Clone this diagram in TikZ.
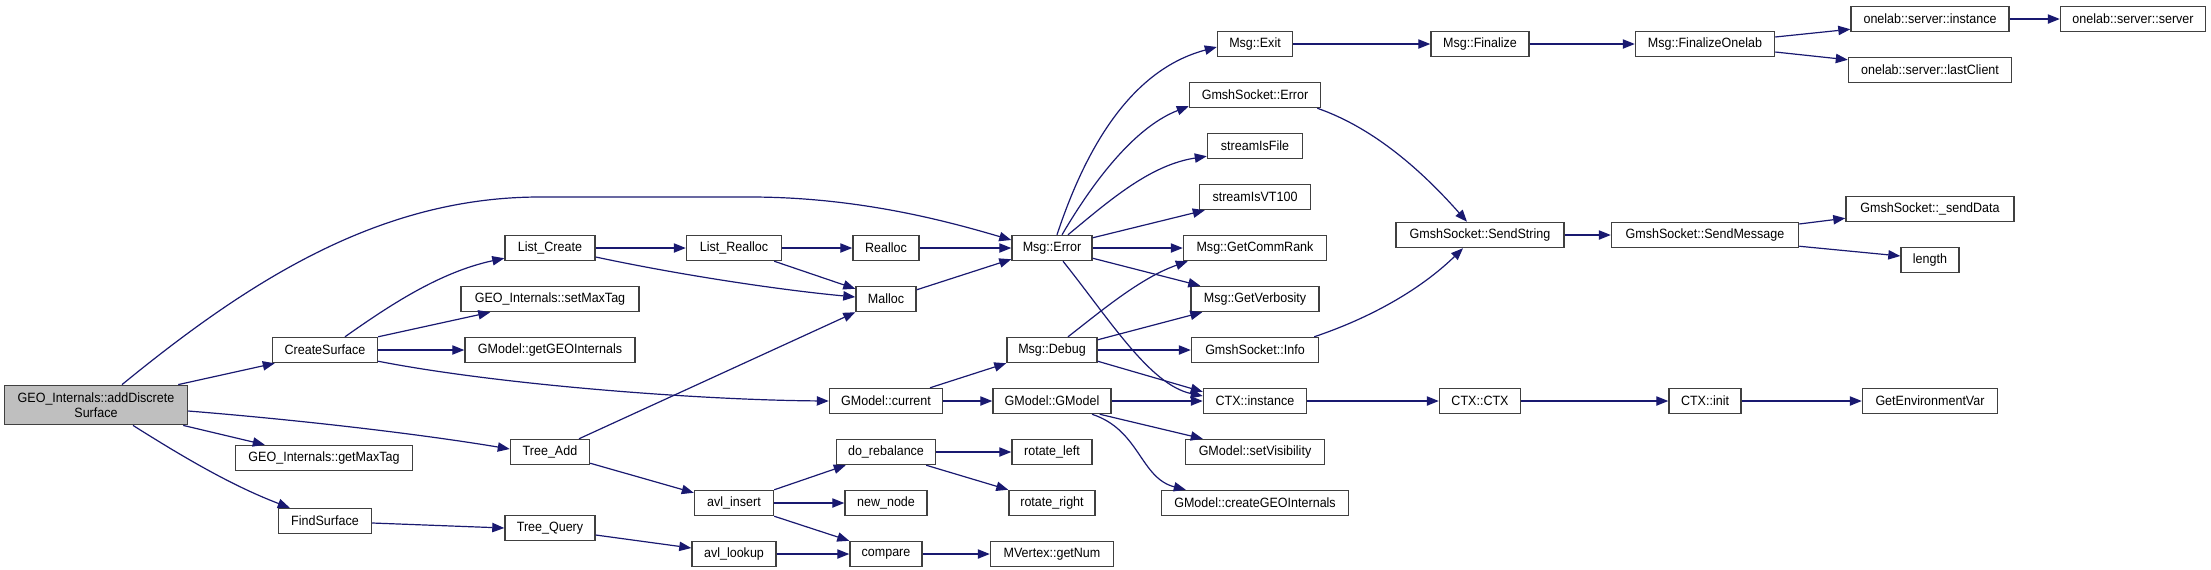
\documentclass[tikz,border=0pt]{standalone}
\usepackage{fontspec}
\newfontfamily\fnfont[FakeStretch=0.93]{Liberation Sans}
\usetikzlibrary{arrows.meta,calc}
\definecolor{edgeblue}{HTML}{191970}
\definecolor{boxline}{HTML}{404040}
\definecolor{rootfill}{HTML}{BFBFBF}
\begin{document}
\begin{tikzpicture}[x=0.75pt,y=-0.75pt,
  fn/.style={draw=boxline, line width=1.1pt, fill=white, minimum height=18.75pt, inner sep=0pt, font=\fnfont\fontsize{10.1}{11.0}\selectfont},
  bw/.style={minimum width=#1*0.75pt},
  call/.style={draw=edgeblue, line width=0.9pt, -{Triangle[length=9pt,width=7pt]}}]
\useasboundingbox (0,0) rectangle (2211,569);
\node[fn,bw=183,minimum height=29.5pt,fill=rootfill,align=center] (root) at (96,405) {GEO\_Internals::addDiscrete\\Surface};
\node[fn,bw=105] (cs) at (325,350) {CreateSurface};
\node[fn,bw=177] (gmt) at (324,458) {GEO\_Internals::getMaxTag};
\node[fn,bw=93] (fs) at (325,521) {FindSurface};
\node[fn,bw=90] (lc) at (550,248) {List\_Create};
\node[fn,bw=178] (smt) at (550,299) {GEO\_Internals::setMaxTag};
\node[fn,bw=170] (ggi) at (550,350) {GModel::getGEOInternals};
\node[fn,bw=79] (ta) at (550,452) {Tree\_Add};
\node[fn,bw=90] (tq) at (550,528) {Tree\_Query};
\node[fn,bw=95] (lr) at (734,248) {List\_Realloc};
\node[fn,bw=79] (ai) at (734,503) {avl\_insert};
\node[fn,bw=84] (al) at (734,554) {avl\_lookup};
\node[fn,bw=66] (ra) at (886,248) {Realloc};
\node[fn,bw=60] (mal) at (886,299) {Malloc};
\node[fn,bw=113] (cur) at (886,401) {GModel::current};
\node[fn,bw=99] (dr) at (886,452) {do\_rebalance};
\node[fn,bw=82] (nn) at (886,503) {new\_node};
\node[fn,bw=72] (cmp) at (886,554) {compare};
\node[fn,bw=80] (err) at (1052,248) {Msg::Error};
\node[fn,bw=90] (dbg) at (1052,350) {Msg::Debug};
\node[fn,bw=118] (gm) at (1052,401) {GModel::GModel};
\node[fn,bw=80] (rl) at (1052,452) {rotate\_left};
\node[fn,bw=86] (rr) at (1052,503) {rotate\_right};
\node[fn,bw=123] (mv) at (1052,554) {MVertex::getNum};
\node[fn,bw=75] (ex) at (1255,44) {Msg::Exit};
\node[fn,bw=131] (gse) at (1255,95) {GmshSocket::Error};
\node[fn,bw=95] (sif) at (1255,146) {streamIsFile};
\node[fn,bw=111] (svt) at (1255,197) {streamIsVT100};
\node[fn,bw=143] (gcr) at (1255,248) {Msg::GetCommRank};
\node[fn,bw=128] (gvb) at (1255,299) {Msg::GetVerbosity};
\node[fn,bw=127] (inf) at (1255,350) {GmshSocket::Info};
\node[fn,bw=103] (ctxi) at (1255,401) {CTX::instance};
\node[fn,bw=139] (vis) at (1255,452) {GModel::setVisibility};
\node[fn,bw=187] (cgi) at (1255,503) {GModel::createGEOInternals};
\node[fn,bw=98] (fin) at (1480,44) {Msg::Finalize};
\node[fn,bw=168] (ss) at (1480,235) {GmshSocket::SendString};
\node[fn,bw=81] (cc) at (1480,401) {CTX::CTX};
\node[fn,bw=139] (fo) at (1705,44) {Msg::FinalizeOnelab};
\node[fn,bw=187] (sm) at (1705,235) {GmshSocket::SendMessage};
\node[fn,bw=72] (ci) at (1705,401) {CTX::init};
\node[fn,bw=158] (osi) at (1930,19) {onelab::server::instance};
\node[fn,bw=163] (olc) at (1930,70) {onelab::server::lastClient};
\node[fn,bw=168] (sd) at (1930,209) {GmshSocket::\_sendData};
\node[fn,bw=58] (len) at (1930,260) {length};
\node[fn,bw=135] (gev) at (1930,401) {GetEnvironmentVar};
\node[fn,bw=145] (oss) at (2133,19) {onelab::server::server};
% connectors
\draw[call] ($(root.north)+(26,0)$) .. controls (250,280) and (380,197) .. (540,197) -- (750,197) .. controls (860,197) and (950,222) .. ($(err.west)+(0,-8)$);
\draw[call] ($(root.north east)+(-10,0)$) -- ($(cs.south west)+(3,0)$);
\draw[call] ($(root.east)+(0,6)$) .. controls (300,420) and (420,434) .. ($(ta.west)+(0,-3)$);
\draw[call] ($(root.south east)+(-5,0)$) -- ($(gmt.north west)+(30,0)$);
\draw[call] ($(root.south)+(37,0)$) .. controls (180,455) and (230,485) .. ($(fs.north west)+(12,0)$);
\draw[call] ($(cs.north)+(20,0)$) .. controls (390,305) and (440,272) .. ($(lc.south west)+(0,-3)$);
\draw[call] (cs.north east) -- ($(smt.south west)+(30,0)$);
\draw[call] (cs) -- (ggi);
\draw[call] ($(cs.south east)+(0,-2)$) .. controls (500,385) and (700,400) .. (cur.west);
\draw[call] (lc) -- (lr);
\draw[call] ($(lc.east)+(0,9)$) .. controls (680,275) and (780,290) .. ($(mal.west)+(0,-2)$);
\draw[call] (lr) -- (ra);
\draw[call] ($(lr.south east)+(-8,0)$) -- ($(mal.north west)+(0,3)$);
\draw[call] (ra) -- (err);
\draw[call] ($(mal.north east)+(0,4)$) -- ($(err.south west)+(0,-2)$);
\draw[call] ($(ta.north)+(29,0)$) -- (mal.south west);
\draw[call] ($(ta.south east)+(0,-2)$) -- ($(ai.north west)+(0,3)$);
\draw[call] ($(fs.east)+(0,2)$) -- (tq.west);
\draw[call] ($(tq.east)+(0,7)$) -- ($(al.west)+(0,-6)$);
\draw[call] (ai.north east) -- ($(dr.south west)+(10,0)$);
\draw[call] (ai) -- (nn);
\draw[call] (ai.south east) -- (cmp.north west);
\draw[call] (al) -- (cmp);
\draw[call] (dr) -- (rl);
\draw[call] ($(dr.south east)+(-10,0)$) -- (rr.north west);
\draw[call] (cmp) -- (mv);
\draw[call] ($(cur.north)+(44,0)$) -- (dbg.south west);
\draw[call] (cur) -- (gm);
\draw[call] (gm) -- (ctxi);
\draw[call] ($(gm.south east)+(-12,0)$) -- ($(vis.north west)+(18,0)$);
\draw[call] ($(gm.south)+(40,0)$) .. controls (1140,430) and (1140,478) .. ($(cgi.north west)+(25,0)$);
\draw[call] ($(dbg.north)+(16,0)$) .. controls (1100,312) and (1140,278) .. ($(gcr.south west)+(5,0)$);
\draw[call] ($(dbg.north east)+(0,3)$) -- ($(gvb.south west)+(12,0)$);
\draw[call] (dbg) -- (inf);
\draw[call] ($(dbg.south east)+(0,-2)$) -- ($(ctxi.north west)+(0,4)$);
\draw[call] ($(err.north)+(5,0)$) .. controls (1085,150) and (1130,70) .. ($(ex.west)+(0,3)$);
\draw[call] ($(err.north)+(10,0)$) .. controls (1100,170) and (1140,125) .. ($(gse.south west)+(0,-2)$);
\draw[call] ($(err.north)+(16,0)$) .. controls (1110,200) and (1150,165) .. ($(sif.south west)+(0,-3)$);
\draw[call] ($(err.north east)+(0,3)$) -- ($(svt.south west)+(6,0)$);
\draw[call] (err) -- (gcr);
\draw[call] ($(err.south east)+(0,-3)$) -- ($(gvb.north west)+(10,0)$);
\draw[call] ($(err.south)+(11,0)$) .. controls (1110,320) and (1150,385) .. ($(ctxi.west)+(0,-5)$);
\draw[call] (ex) -- (fin);
\draw[call] (fin) -- (fo);
\draw[call] ($(fo.east)+(0,-7)$) -- ($(osi.south west)+(0,-3)$);
\draw[call] ($(fo.east)+(0,8)$) -- ($(olc.north west)+(0,3)$);
\draw[call] (osi) -- (oss);
\draw[call] ($(gse.south east)+(-4,0)$) .. controls (1380,130) and (1430,180) .. ($(ss.north)+(-13,0)$);
\draw[call] ($(inf.north east)+(-5,0)$) .. controls (1370,318) and (1420,290) .. ($(ss.south)+(-17,0)$);
\draw[call] (ss) -- (sm);
\draw[call] ($(sm.east)+(0,-11)$) -- ($(sd.south west)+(0,-4)$);
\draw[call] ($(sm.south east)+(0,-2)$) -- ($(len.west)+(0,-4)$);
\draw[call] (ctxi) -- (cc);
\draw[call] (cc) -- (ci);
\draw[call] (ci) -- (gev);
\end{tikzpicture}
\end{document}
